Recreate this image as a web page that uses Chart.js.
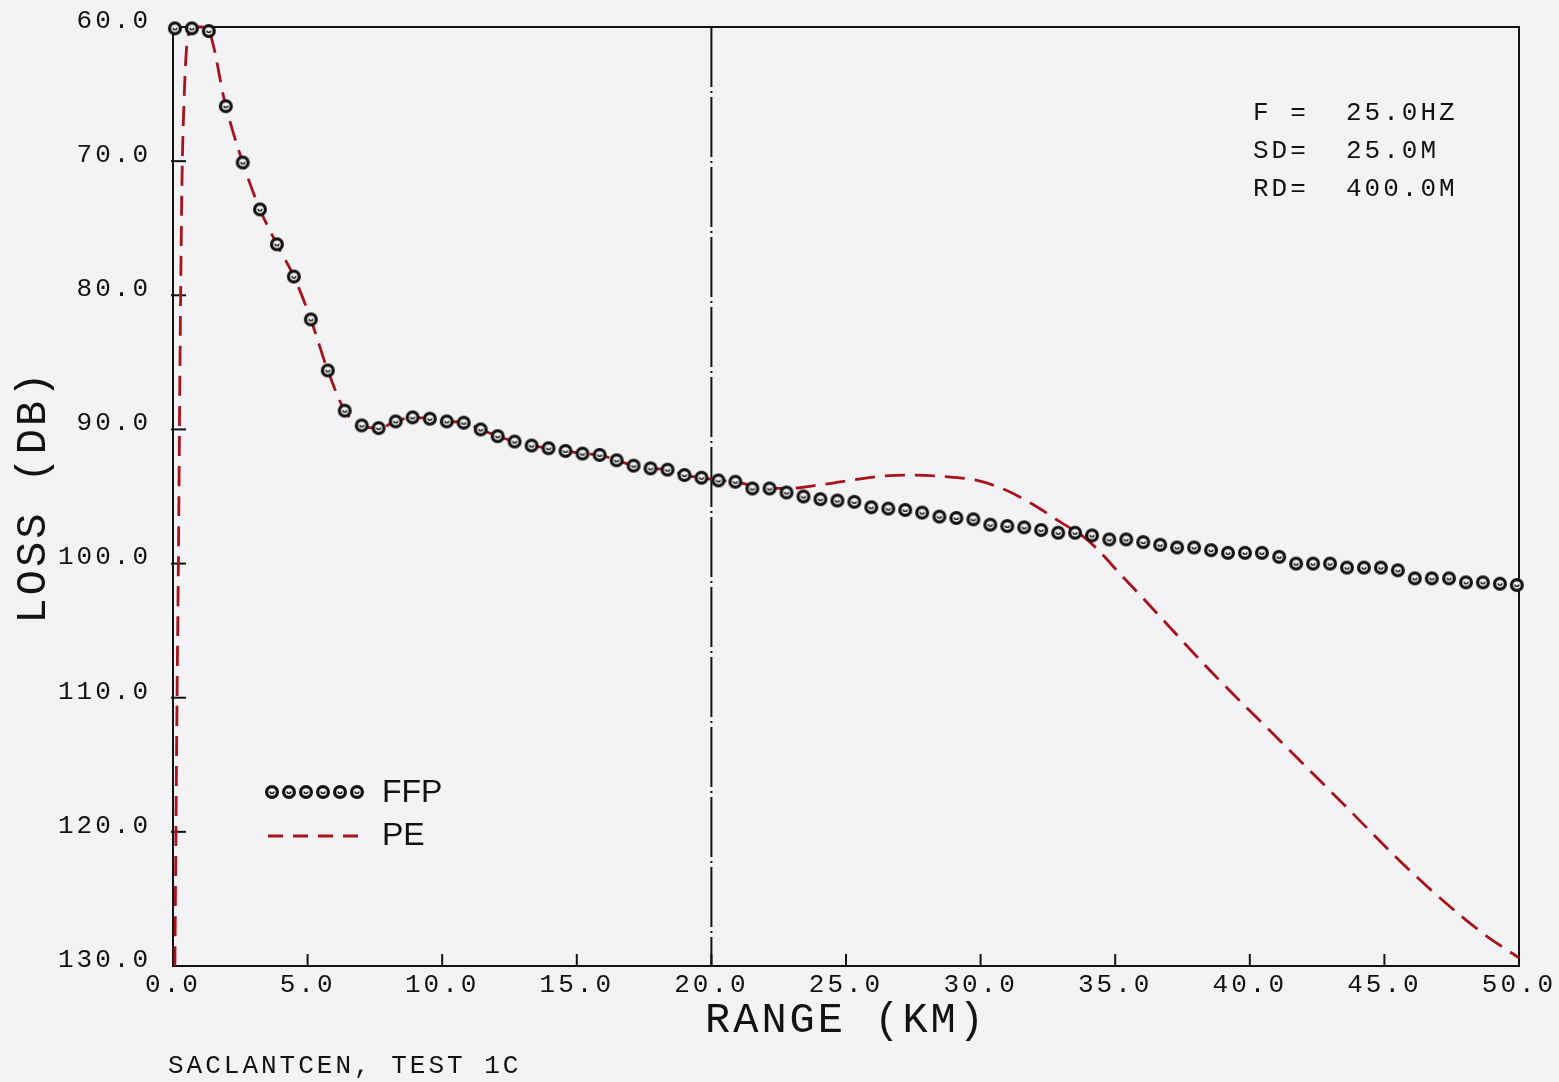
<!DOCTYPE html>
<html>
<head>
<meta charset="utf-8">
<script src="https://cdn.jsdelivr.net/npm/chart.js@4"></script>
<style>
  html, body { margin: 0; padding: 0; background: #f3f3f6; }
  canvas { display: block; }
</style>
</head>
<body>
<canvas id="loss-chart" width="1559" height="1082"></canvas>
<script>
// FFP: range (km) and loss (dB), one value per plotted circle
const ffpRange = [
  0.07, 0.70, 1.33, 1.96, 2.59, 3.23, 3.86, 4.49, 5.12, 5.75,
  6.38, 7.01, 7.64, 8.27, 8.90, 9.54, 10.17, 10.80, 11.43, 12.06,
  12.69, 13.32, 13.95, 14.58, 15.21, 15.85, 16.48, 17.11, 17.74, 18.37,
  19.00, 19.63, 20.26, 20.89, 21.52, 22.16, 22.79, 23.42, 24.05, 24.68,
  25.31, 25.94, 26.57, 27.20, 27.83, 28.47, 29.10, 29.73, 30.36, 30.99,
  31.62, 32.25, 32.88, 33.51, 34.14, 34.78, 35.41, 36.04, 36.67, 37.30,
  37.93, 38.56, 39.19, 39.82, 40.45, 41.09, 41.72, 42.35, 42.98, 43.61,
  44.24, 44.87, 45.50, 46.13, 46.76, 47.40, 48.03, 48.66, 49.29, 49.92
];
const ffpLoss = [
  60.1, 60.1, 60.3, 65.9, 70.1, 73.6, 76.2, 78.6, 81.8, 85.6,
  88.6, 89.7, 89.9, 89.4, 89.1, 89.2, 89.4, 89.5, 90.0, 90.5,
  90.9, 91.2, 91.4, 91.6, 91.8, 91.9, 92.3, 92.7, 92.9, 93.0,
  93.4, 93.6, 93.8, 93.9, 94.4, 94.4, 94.7, 95.0, 95.2, 95.3,
  95.4, 95.8, 95.9, 96.0, 96.2, 96.5, 96.6, 96.7, 97.1, 97.2,
  97.3, 97.5, 97.7, 97.7, 97.9, 98.2, 98.2, 98.4, 98.6, 98.8,
  98.8, 99.0, 99.2, 99.2, 99.2, 99.5, 100.0, 100.0, 100.0, 100.3,
  100.3, 100.3, 100.5, 101.1, 101.1, 101.1, 101.4, 101.4, 101.5, 101.6
];

// PE: dashed curve
const peRange = [
  0.07, 0.15, 0.20, 0.26, 0.33, 0.41, 0.52, 0.63, 0.85, 1.08,
  1.33, 1.96, 2.59, 3.23, 3.86, 4.49, 5.12, 5.75, 6.38, 7.01,
  7.64, 8.27, 8.90, 9.54, 10.17, 10.80, 11.43, 12.06, 12.69, 13.32,
  13.95, 14.58, 15.21, 15.85, 16.48, 17.11, 17.74, 18.37, 19.00, 19.63,
  20.26, 20.89, 21.52, 22.16, 22.92, 23.77, 24.52, 25.15, 26.26, 27.38,
  28.60, 29.87, 30.91, 31.95, 32.88, 33.95, 35.29, 36.18, 38.63, 41.12,
  43.61, 46.06, 48.55, 50.00
];
const peLoss = [
  130.0, 110.0, 100.0, 85.0, 72.0, 65.5, 61.2, 60.4, 60.0, 60.0,
  60.3, 65.9, 70.1, 73.6, 76.2, 78.6, 81.8, 85.6, 88.6, 89.7,
  89.9, 89.4, 89.1, 89.2, 89.4, 89.5, 90.0, 90.5, 90.9, 91.2,
  91.4, 91.6, 91.8, 91.9, 92.3, 92.7, 92.9, 93.0, 93.4, 93.6,
  93.8, 93.9, 94.2, 94.4, 94.4, 94.2, 94.0, 93.8, 93.5, 93.4,
  93.5, 93.8, 94.5, 95.6, 96.8, 98.2, 101.0, 102.9, 108.2, 113.2,
  118.2, 123.1, 127.4, 129.4
];

const rangeMin = 0, rangeMax = 50, rangeStep = 5;
const lossMin = 60, lossMax = 130, lossStep = 10;
const markerRange = 20.0;
const seriesNames = ["FFP", "PE"];
const infoLines = ["F =  25.0HZ", "SD=  25.0M", "RD=  400.0M"];
const caption = "SACLANTCEN, TEST 1C";

const MONO = '"Liberation Mono", "DejaVu Sans Mono", monospace';
const SANS = '"Liberation Sans", Arial, sans-serif';
const INK = "#121212";
const RED = "#a9121b";
const BG = "#f3f3f6";

// little plotter-style circle with a "u" in it
function makeMarker() {
  const c = document.createElement("canvas");
  c.width = 16;
  c.height = 16;
  const g = c.getContext("2d");
  g.beginPath();
  g.arc(8, 8, 5.4, 0, Math.PI * 2);
  g.fillStyle = BG;
  g.fill();
  g.lineWidth = 3.2;
  g.strokeStyle = INK;
  g.stroke();
  g.beginPath();
  g.arc(8, 7.4, 1.9, 0, Math.PI);
  g.lineWidth = 1.4;
  g.stroke();
  return c;
}
const marker = makeMarker();

function line(ctx, x1, y1, x2, y2) {
  ctx.beginPath();
  ctx.moveTo(x1, y1);
  ctx.lineTo(x2, y2);
  ctx.stroke();
}

const plotterPlugin = {
  id: "plotter",
  beforeUpdate(chart) {
    chart.ctx.letterSpacing = "3px";
  },
  beforeDraw(chart) {
    chart.ctx.letterSpacing = "3px";
  },
  beforeDatasetsDraw(chart) {
    const ctx = chart.ctx;
    const { left, right, top, bottom } = chart.chartArea;
    const xs = chart.scales.x;
    const ys = chart.scales.y;
    ctx.save();
    ctx.strokeStyle = INK;
    ctx.lineWidth = 2;
    ctx.strokeRect(left, top, right - left, bottom - top);
    ys.ticks.forEach((t) => {
      if (t.value === lossMin || t.value === lossMax) return;
      const y = ys.getPixelForValue(t.value);
      line(ctx, left - 2, y, left + 13, y);
    });
    xs.ticks.forEach((t) => {
      if (t.value === rangeMin || t.value === rangeMax) return;
      const x = xs.getPixelForValue(t.value);
      line(ctx, x, bottom, x, bottom - 12);
    });
    const xm = xs.getPixelForValue(markerRange);
    ctx.setLineDash([60, 4, 2, 4]);
    line(ctx, xm, top, xm, bottom);
    ctx.restore();
  },
  afterDraw(chart) {
    const ctx = chart.ctx;
    const { left, top } = chart.chartArea;
    ctx.save();
    ctx.fillStyle = INK;
    ctx.textBaseline = "middle";
    ctx.textAlign = "left";

    // run parameters, top right
    ctx.font = "26px " + MONO;
    ctx.letterSpacing = "3px";
    infoLines.forEach((s, i) => ctx.fillText(s, 1253, 113 + i * 38));

    // caption under the axis
    ctx.fillText(caption, 168, 1066);

    // legend
    for (let i = 0; i < 6; i++) {
      ctx.drawImage(marker, left + 99 + i * 17 - 8, top + 765 - 8);
    }
    ctx.strokeStyle = RED;
    ctx.lineWidth = 2.8;
    ctx.setLineDash([15, 10]);
    line(ctx, left + 95, top + 809, left + 192, top + 809);
    ctx.setLineDash([]);
    ctx.letterSpacing = "0px";
    ctx.font = "32px " + SANS;
    ctx.fillText(seriesNames[0], left + 209, top + 766);
    ctx.fillText(seriesNames[1], left + 209, top + 809);
    ctx.restore();
  },
};

const tickFont = { family: MONO, size: 26 };
const titleFont = { family: MONO, size: 42 };

new Chart(document.getElementById("loss-chart"), {
  type: "scatter",
  data: {
    datasets: [
      {
        label: seriesNames[0],
        data: ffpRange.map((x, i) => ({ x: x, y: ffpLoss[i] })),
        pointStyle: marker,
        pointRadius: 6,
        showLine: false,
        clip: false,
      },
      {
        label: seriesNames[1],
        data: peRange.map((x, i) => ({ x: x, y: peLoss[i] })),
        showLine: true,
        borderColor: RED,
        borderWidth: 2.8,
        borderDash: [20, 10],
        pointRadius: 0,
        cubicInterpolationMode: "monotone",
        clip: 4,
      },
    ],
  },
  options: {
    responsive: false,
    animation: false,
    events: [],
    layout: { padding: { top: 27, right: 40, left: 0, bottom: 0 } },
    scales: {
      x: {
        type: "linear",
        min: rangeMin,
        max: rangeMax,
        grid: { display: false, drawTicks: false },
        border: { display: false },
        ticks: {
          stepSize: rangeStep,
          autoSkip: false,
          maxRotation: 0,
          padding: 4,
          color: INK,
          font: tickFont,
          callback: (v) => v.toFixed(1),
        },
        title: {
          display: true,
          text: "RANGE (KM)",
          color: INK,
          font: titleFont,
          padding: { top: 0, bottom: 36 },
        },
        afterFit: (s) => {
          s.height = 116;
          s.paddingLeft = 0;
          s.paddingRight = 0;
        },
      },
      y: {
        type: "linear",
        reverse: true,
        min: lossMin,
        max: lossMax,
        grid: { display: false, drawTicks: false },
        border: { display: false },
        ticks: {
          stepSize: lossStep,
          padding: 22,
          labelOffset: -6,
          color: INK,
          font: tickFont,
          callback: (v) => v.toFixed(1),
        },
        title: {
          display: true,
          text: "LOSS (DB)",
          color: INK,
          font: titleFont,
          padding: { top: 9, bottom: 0 },
        },
        afterFit: (s) => {
          s.width = 173;
          s.paddingTop = 0;
          s.paddingBottom = 0;
        },
      },
    },
    plugins: {
      legend: { display: false },
      tooltip: { enabled: false },
    },
  },
  plugins: [plotterPlugin],
});
</script>
</body>
</html>
